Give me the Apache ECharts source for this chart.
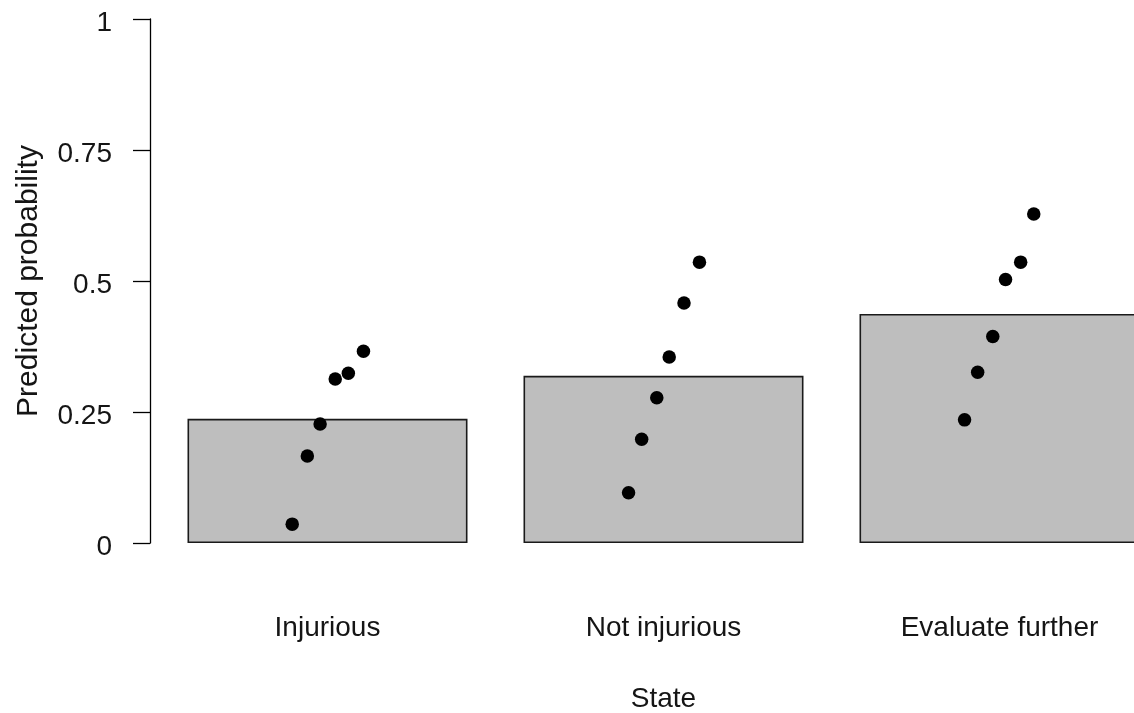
<!DOCTYPE html>
<html>
<head>
<meta charset="utf-8">
<script src="https://cdn.jsdelivr.net/npm/echarts@6/dist/echarts.min.js"></script>
<style>
  html, body { margin: 0; padding: 0; background: #fff; }
  #chart { width: 1134px; height: 713px; }
</style>
</head>
<body>
<div id="chart"></div>
<script>
// Categories
const categories = ['Injurious', 'Not injurious', 'Evaluate further'];
// Bar heights (predicted probability, group means)
const barValues = [0.237, 0.319, 0.437];
// Point x positions (category index + small jitter) and predicted probabilities
const injuriousX = [-0.105, -0.060, -0.022, 0.023, 0.062, 0.107];
const injuriousY = [0.036, 0.166, 0.227, 0.313, 0.324, 0.366];
const notInjuriousX = [0.896, 0.935, 0.980, 1.017, 1.061, 1.107];
const notInjuriousY = [0.096, 0.198, 0.277, 0.355, 0.458, 0.536];
const evaluateX = [1.896, 1.935, 1.980, 2.018, 2.063, 2.102];
const evaluateY = [0.235, 0.326, 0.394, 0.503, 0.536, 0.628];
// Y tick labels
const yTicks = [0, 0.25, 0.5, 0.75, 1];
const yTickLabels = ['0', '0.25', '0.5', '0.75', '1'];

const pointXs = [].concat(injuriousX, notInjuriousX, evaluateX);
const pointYs = [].concat(injuriousY, notInjuriousY, evaluateY);
const points = pointXs.map((x, i) => [x, pointYs[i]]);

const FONT = '"Liberation Sans", Arial, sans-serif';
const TXT = '#151515';

const chart = echarts.init(document.getElementById('chart'), null, { renderer: 'canvas' });
chart.setOption({
  backgroundColor: '#ffffff',
  animation: false,
  grid: { left: 159.5, top: 19, width: 1008, height: 524, containLabel: false, outerBoundsMode: 'none' },
  xAxis: [
    {
      type: 'category',
      data: categories,
      boundaryGap: true,
      axisLine: { show: false },
      axisTick: { show: false },
      splitLine: { show: false },
      axisLabel: { margin: 71, fontSize: 28, fontFamily: FONT, color: TXT },
      name: 'State',
      nameLocation: 'middle',
      nameGap: 142,
      nameTextStyle: { fontSize: 28, fontFamily: FONT, color: TXT }
    },
    {
      type: 'value',
      min: -0.5,
      max: 2.5,
      show: false
    }
  ],
  yAxis: {
    type: 'value',
    min: 0,
    max: 1,
    interval: 0.25,
    offset: 9.5,
    axisLine: { show: true, onZero: false, lineStyle: { color: '#000', width: 1.3 } },
    axisTick: { show: true, length: 17, inside: false, lineStyle: { color: '#000', width: 1.3 } },
    splitLine: { show: false },
    axisLabel: {
      margin: 38,
      fontSize: 28,
      fontFamily: FONT,
      color: TXT,
      formatter: function (v) {
        const idx = yTicks.findIndex(t => Math.abs(t - v) < 1e-9);
        return idx >= 0 ? '{t|' + yTickLabels[idx] + '}' : '';
      },
      rich: {
        t: { fontSize: 28, fontFamily: FONT, color: TXT, padding: [8, 0, 0, 0] }
      }
    },
    name: 'Predicted probability',
    nameLocation: 'middle',
    nameGap: 106,
    nameTextStyle: { fontSize: 30, fontFamily: FONT, color: TXT }
  },
  series: [
    {
      type: 'bar',
      xAxisIndex: 0,
      data: barValues,
      barWidth: 280,
      itemStyle: { color: '#bebebe', borderColor: '#1a1a1a', borderWidth: 1.6 },
      silent: true
    },
    {
      type: 'scatter',
      xAxisIndex: 1,
      data: points,
      symbol: 'circle',
      symbolSize: 13.5,
      itemStyle: { color: '#000', opacity: 1 },
      silent: true,
      z: 5
    }
  ]
});
</script>
</body>
</html>
